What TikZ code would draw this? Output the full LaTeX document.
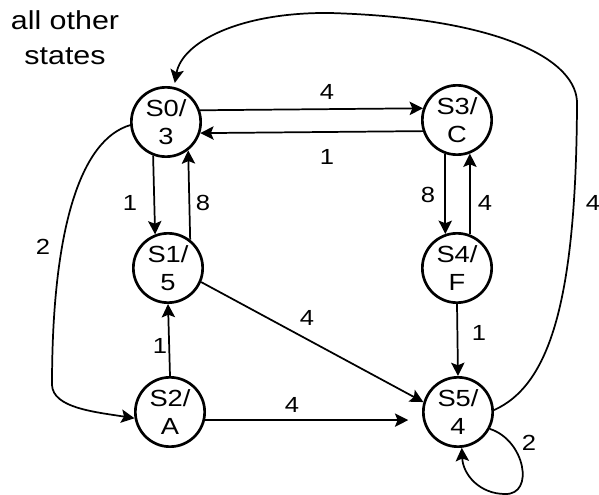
\documentclass[tikz,border=0pt]{standalone}
\usepackage{fontspec}
\setmainfont{Liberation Sans}[FakeStretch=1.17]
\usetikzlibrary{arrows.meta}

\tikzset{every picture/.style={line width=1.3pt}}
\tikzset{
  state/.style={draw, circle, line width=2pt, minimum size=52pt, inner sep=0pt,
    align=center, font=\fontsize{17.5}{21}\selectfont},
  lbl/.style={inner sep=0.75pt, font=\fontsize{16.4}{20}\selectfont},
  trans/.style={-{Stealth[length=10pt,width=10pt,inset=2pt]}},
}

\begin{document}
\begin{tikzpicture}[x=0.75pt,y=0.75pt,yscale=-1,xscale=1]
\useasboundingbox (0,0) rectangle (599,495);

%States
\node[state] (s0) at (166,122) {S0/\\3};
\node[state] (s1) at (168,268) {S1/\\5};
\node[state] (s2) at (170,412) {S2/\\A};
\node[state] (s3) at (457,120) {S3/\\C};
\node[state] (s4) at (457,268) {S4/\\F};
\node[state] (s5) at (458,412) {S5/\\4};

%Text Node
\node[align=center, inner sep=0.75pt, font=\fontsize{19.5}{26}\selectfont] (other) at (65,38) {all other\\states};

%Top row
\draw[trans] (s0.19) -- (s3.161);
\draw[trans] (s3.198) -- (s0.-18);
%Left column
\draw[trans] (s0.249) -- (s1.111);
\draw[trans] (s1.52) -- (s0.-52);
\draw[trans] (s2.north) -- (s1.south);
%Right column
\draw[trans] (s3.-109) -- (s4.109);
\draw[trans] (s4.69) -- (s3.-69);
\draw[trans] (s4.south) -- (s5.north);
%Into S5
\draw[trans] (s1.-23) -- (s5.164);
\draw[trans, shorten >=11pt] (s2.-13) -- (s5.193);
%Curve S0 to S2
\draw[trans] (s0.185) .. controls (80,140) and (52,230) .. (52,385) .. controls (53,408) and (95,412) .. (s2.190);
%Curve S5 back to S0
\draw[trans, shorten >=3pt] (s5.3) .. controls (550,385) and (576,300) .. (577,105) .. controls (579,60) and (500,18) .. (330,13) .. controls (240,12) and (182,42) .. (s0.77);
%Self loop on S5
\draw[trans] (s5.-28) .. controls (525,440) and (535,495) .. (505,494) .. controls (480,494) and (463,475) .. (s5.-84);

%Labels
\node[lbl] (l03) at (327,92) {4};
\node[lbl] (l30) at (327,157) {1};
\node[lbl] (l01) at (130,203) {1};
\node[lbl] (l10) at (203,203) {8};
\node[lbl] (l02) at (43,247) {2};
\node[lbl] (l21) at (160,346) {1};
\node[lbl] (l15) at (307,318) {4};
\node[lbl] (l25) at (292,405) {4};
\node[lbl] (l34) at (428,195) {8};
\node[lbl] (l43) at (485,203) {4};
\node[lbl] (l45) at (479,333) {1};
\node[lbl] (l50) at (593,203) {4};
\node[lbl] (l55) at (529,443) {2};

\end{tikzpicture}
\end{document}
